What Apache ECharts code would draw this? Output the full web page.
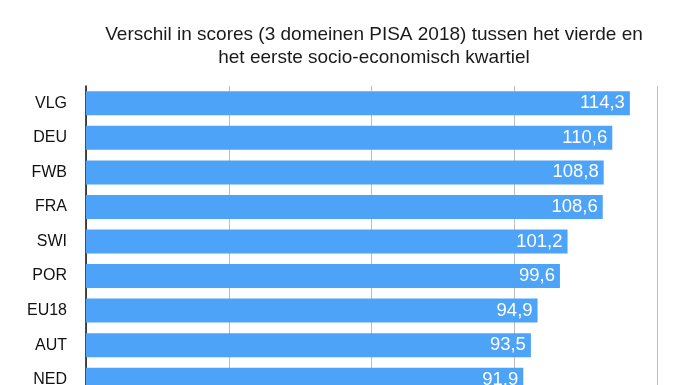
<!DOCTYPE html>
<html><head><meta charset="utf-8">
<script src="https://cdn.jsdelivr.net/npm/echarts@6/dist/echarts.min.js"></script>
<style>html,body{margin:0;padding:0;background:#fff}#c{width:696px;height:385px}</style>
</head><body><div id="c"></div>
<script>
const categories = ['VLG','DEU','FWB','FRA','SWI','POR','EU18','AUT','NED'];
const values = [114.3,110.6,108.8,108.6,101.2,99.6,94.9,93.5,91.9];
const titleText = 'Verschil in scores (3 domeinen PISA 2018) tussen het vierde en\nhet eerste socio-economisch kwartiel';
const font = '"Liberation Sans", Arial, Helvetica, sans-serif';
const chart = echarts.init(document.getElementById('c'), null, {renderer:'canvas'});
chart.setOption({
  animation:false,
  title:{text:titleText,left:369,textAlign:'center',top:18,
    textStyle:{fontFamily:font,fontSize:19,fontWeight:'normal',color:'#1a1a1a',lineHeight:23}},
  grid:{left:86,top:86,width:571,height:311,outerBoundsMode:'none',containLabel:false},
  xAxis:{type:'value',min:0,max:120,interval:30,
    axisLabel:{show:false},axisLine:{show:false},axisTick:{show:false},
    splitLine:{lineStyle:{color:'#bdbdbd',width:1}}},
  yAxis:{type:'category',data:categories,inverse:true,
    axisLine:{lineStyle:{color:'#111',width:1.5}},axisTick:{show:false},
    axisLabel:{fontFamily:font,fontSize:16,color:'#111',margin:19}},
  series:[{type:'bar',data:values,barWidth:24,
    itemStyle:{color:'#4ca3f8'},
    label:{show:true,position:'insideRight',distance:5,color:'#fff',fontFamily:font,fontSize:18.5,
      formatter:p=>p.value.toFixed(1).replace('.',',')}}]
});
</script></body></html>
